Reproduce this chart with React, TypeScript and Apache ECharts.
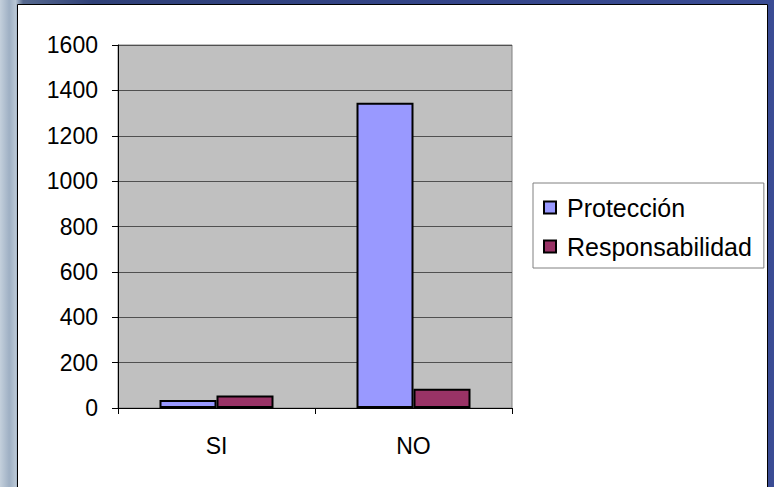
import React, { useEffect, useRef } from "react";
import * as echarts from "echarts";

const categories = ["SI", "NO"];
const seriesNames = ["Protección", "Responsabilidad"];
const proteccion = [35, 1345];
const responsabilidad = [55, 85];
const yMin = 0;
const yMax = 1600;
const yInterval = 200;

const FONT = "'Liberation Sans', Arial, sans-serif";

export default function App() {
  const ref = useRef<HTMLDivElement>(null);

  useEffect(() => {
    if (!ref.current) return;
    const chart = echarts.init(ref.current, null, { renderer: "svg" });
    chart.setOption({
      animation: false,
      backgroundColor: "transparent",
      textStyle: { fontFamily: FONT },
      graphic: [
        {
          type: "rect",
          z: -10,
          silent: true,
          shape: { x: 17.5, y: 4.5, width: 750, height: 490 },
          style: { fill: "#ffffff", stroke: "#000000", lineWidth: 1 },
        },
      ],
      grid: {
        left: 118,
        top: 45,
        width: 394,
        height: 363,
        show: true,
        backgroundColor: "#c0c0c0",
        borderColor: "#808080",
        borderWidth: 1,
      },
      legend: {
        orient: "vertical",
        left: 533,
        top: 183,
        padding: [12, 12, 9, 10],
        borderColor: "#808080",
        borderWidth: 1,
        backgroundColor: "#ffffff",
        itemWidth: 12,
        itemHeight: 12,
        itemGap: 14,
        icon: "rect",
        data: seriesNames,
        textStyle: {
          fontFamily: FONT,
          fontSize: 25,
          lineHeight: 24,
          color: "#000000",
          padding: [0, 0, 0, 6],
        },
      },
      xAxis: {
        type: "category",
        data: categories,
        boundaryGap: true,
        axisLine: { show: true, lineStyle: { color: "#000000", width: 1 } },
        axisTick: { show: true, length: 6, lineStyle: { color: "#000000" } },
        axisLabel: { fontSize: 23, color: "#000000", margin: 26, fontFamily: FONT },
        splitLine: { show: false },
      },
      yAxis: {
        type: "value",
        min: yMin,
        max: yMax,
        interval: yInterval,
        axisLine: { show: true, lineStyle: { color: "#000000", width: 1 } },
        axisTick: { show: true, length: 6, lineStyle: { color: "#000000" } },
        axisLabel: {
          fontSize: 23,
          color: "#000000",
          margin: 20,
          fontFamily: FONT,
          formatter: (v: number) => String(v),
        },
        splitLine: { show: true, lineStyle: { color: "#505050", width: 1 } },
      },
      series: [
        {
          name: seriesNames[0],
          type: "bar",
          data: proteccion,
          barWidth: 57,
          barGap: "0%",
          itemStyle: { color: "#9999ff", borderColor: "#000000", borderWidth: 2 },
        },
        {
          name: seriesNames[1],
          type: "bar",
          data: responsabilidad,
          barWidth: 57,
          barGap: "0%",
          itemStyle: { color: "#993366", borderColor: "#000000", borderWidth: 2 },
        },
      ],
    });
    return () => chart.dispose();
  }, []);

  return (
    <div
      style={{
        position: "absolute",
        left: 0,
        top: 0,
        width: 774,
        height: 487,
        background:
          "linear-gradient(to right, #c4d0dc 0%, #9fb0c4 1.2%, #b8c6d4 2%, #56698f 3%, #2f4078 12%, #34458a 60%, #3a4c94 100%)",
      }}
    >
      <div ref={ref} style={{ width: 774, height: 487 }} />
    </div>
  );
}
